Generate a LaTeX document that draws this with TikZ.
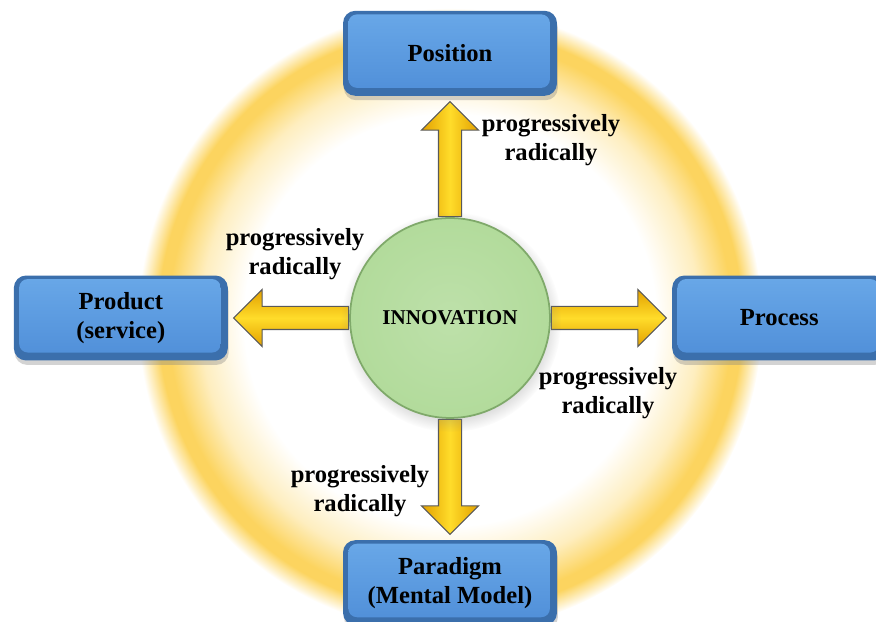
\documentclass[tikz,border=0pt]{standalone}
\usepackage{fontspec}
\setmainfont{Liberation Serif}
\usepackage{tikz}
\usetikzlibrary{positioning}
\usetikzlibrary{calc}
\usetikzlibrary{shapes.arrows}
\usetikzlibrary{shadows}
\usetikzlibrary{backgrounds}

\definecolor{ringGold}{HTML}{FCD45F}
\definecolor{boxFace}{HTML}{69A8E8}
\definecolor{boxFaceDark}{HTML}{4F8ED8}
\definecolor{boxEdge}{HTML}{3B6FAC}
\definecolor{hubFill}{HTML}{B2DB9B}
\definecolor{hubEdge}{HTML}{7FA96A}
\definecolor{arrowLight}{HTML}{FFDC2A}
\definecolor{arrowDark}{HTML}{E3A000}

% soft golden band behind everything
\pgfdeclareradialshading{ringglow}{\pgfpointorigin}{%
    color(0bp)=(white); color(16.5bp)=(white);
    color(20bp)=(ringGold!40); color(22.6bp)=(ringGold);
    color(23.4bp)=(ringGold); color(25bp)=(white); color(50bp)=(white)}

\begin{document}
\begin{tikzpicture}[
    x=0.02cm, y=0.02cm,
    node distance=2.42cm,
    aspectBox/.style={
        rectangle, rounded corners=7pt, fill=boxEdge,
        minimum width=4.28cm, minimum height=1.7cm,
        font=\fontsize{14}{16.5}\selectfont\bfseries,
        align=center,
        drop shadow={shadow xshift=0.5pt, shadow yshift=-2.5pt, opacity=0.35},
        path picture={
            \shade[top color=boxFace, bottom color=boxFaceDark, rounded corners=5pt]
                ($(path picture bounding box.south west)+(3pt,4.5pt)$) rectangle
                ($(path picture bounding box.north east)+(-4pt,-2pt)$);
        }
    },
    hub/.style={
        circle, minimum size=4cm,
        inner color=hubFill!85!white, outer color=hubFill,
        draw=hubEdge, line width=1pt,
        font=\fontsize{12}{14}\selectfont\bfseries,
        circular drop shadow={shadow xshift=0.5pt, shadow yshift=-2pt, opacity=0.3}
    },
    flowArrow/.style={
        single arrow, single arrow head extend=0.34cm,
        minimum height=2.3cm, inner xsep=0pt, inner ysep=0.22cm,
        draw=gray!70!black, line width=0.6pt
    },
    % the shading stays in page axes, so it is set per direction
    flowArrowH/.style={flowArrow,
        top color=arrowDark, bottom color=arrowDark, middle color=arrowLight},
    flowArrowV/.style={flowArrow,
        left color=arrowDark, right color=arrowDark, middle color=arrowLight},
    stepLabel/.style={
        font=\fontsize{14}{16.5}\selectfont\bfseries, align=center
    }
]
\useasboundingbox (0,0) rectangle (876,622);

\node[hub] (hub) at (450,304) {INNOVATION};
\node[aspectBox, above=of hub] (position) {Position};
\node[aspectBox, left=of hub] (product) {Product\\(service)};
\node[aspectBox, right=of hub] (process) {Process};
\node[aspectBox, below=of hub] (paradigm) {Paradigm\\(Mental Model)};

\begin{scope}[on background layer]
    \shade[shading=ringglow] (450,302) circle (6.24cm);
    \node[flowArrowV, rotate=90, anchor=tail] (toPosition) at (hub.north) {};
    \node[flowArrowH, rotate=180, anchor=tail] (toProduct) at (hub.west) {};
    \node[flowArrowH, anchor=tail] (toProcess) at (hub.east) {};
    \node[flowArrowV, rotate=-90, anchor=tail] (toParadigm) at (hub.south) {};
\end{scope}

\node[stepLabel] (labelUp) at (551,482) {progressively\\radically};
\node[stepLabel] (labelLeft) at (295,368) {progressively\\radically};
\node[stepLabel] (labelRight) at (608,229) {progressively\\radically};
\node[stepLabel] (labelDown) at (360,131) {progressively\\radically};
\end{tikzpicture}
\end{document}
